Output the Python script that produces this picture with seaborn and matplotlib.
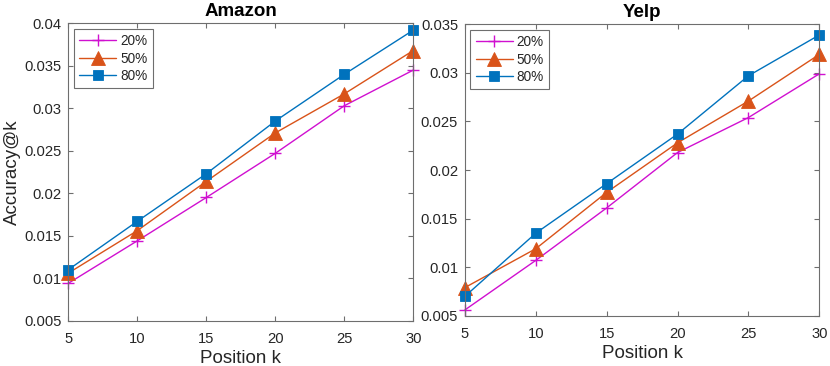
import numpy as np
import pandas as pd
import matplotlib
matplotlib.use("Agg")
import matplotlib.pyplot as plt
import seaborn as sns

k = [5, 10, 15, 20, 25, 30]
series = ["20%", "50%", "80%"]
amazon_20 = [0.0094, 0.0144, 0.0195, 0.0247, 0.0303, 0.0345]
amazon_50 = [0.0106, 0.0156, 0.0214, 0.0271, 0.0317, 0.0368]
amazon_80 = [0.0110, 0.0167, 0.0223, 0.0285, 0.0340, 0.0392]
yelp_20 = [0.0056, 0.0107, 0.0161, 0.0218, 0.0254, 0.0299]
yelp_50 = [0.0079, 0.0119, 0.0177, 0.0228, 0.0271, 0.0319]
yelp_80 = [0.0070, 0.0135, 0.0186, 0.0237, 0.0297, 0.0339]
amazon_yticks = [0.005, 0.01, 0.015, 0.02, 0.025, 0.03, 0.035, 0.04]
amazon_ylabels = ["0.005", "0.01", "0.015", "0.02", "0.025", "0.03", "0.035", "0.04"]
yelp_yticks = [0.005, 0.01, 0.015, 0.02, 0.025, 0.03, 0.035]
yelp_ylabels = ["0.005", "0.01", "0.015", "0.02", "0.025", "0.03", "0.035"]

sns.set_style("ticks")
plt.rcParams["font.family"] = ["Liberation Sans", "DejaVu Sans"]

colors = {"20%": "#D010D0", "50%": "#D95319", "80%": "#0072BD"}
markers = {"20%": "+", "50%": "^", "80%": "s"}
msizes = {"20%": 9, "50%": 10, "80%": 7.5}
txt = "#262626"
edge = "#6e6e6e"

fig = plt.figure(figsize=(8.3, 3.66), dpi=100)
ax1 = fig.add_axes([0.0823, 0.1238, 0.4157, 0.8125])
ax2 = fig.add_axes([0.5602, 0.1374, 0.4269, 0.7962])

panels = [
    (ax1, "Amazon", [amazon_20, amazon_50, amazon_80], (0.005, 0.04), amazon_yticks, amazon_ylabels),
    (ax2, "Yelp", [yelp_20, yelp_50, yelp_80], (0.005, 0.035), yelp_yticks, yelp_ylabels),
]

for ax, title, vals, ylim, yt, yl in panels:
    df = pd.DataFrame({
        "k": k * 3,
        "acc": vals[0] + vals[1] + vals[2],
        "s": sum([[s] * len(k) for s in series], []),
    })
    for s in series:
        sub = df[df["s"] == s]
        sns.lineplot(data=sub, x="k", y="acc", ax=ax, color=colors[s], marker=markers[s],
                     markersize=msizes[s], markeredgewidth=1.0 if s == "20%" else 0.6,
                     markeredgecolor=colors[s], linewidth=1.0, label=s, clip_on=False)
    ax.set_xlim(5, 30)
    ax.set_ylim(*ylim)
    ax.set_xticks(k)
    ax.set_xticklabels([str(v) for v in k])
    ax.set_yticks(yt)
    ax.set_yticklabels(yl)
    ax.tick_params(direction="in", length=3.5, width=0.8, top=True, right=True,
                   labelsize=10.6, colors=edge, labelcolor=txt)
    ax.tick_params(axis="x", pad=8)
    ax.tick_params(axis="y", pad=5)
    for sp in ax.spines.values():
        sp.set_visible(True)
        sp.set_color(edge)
        sp.set_linewidth(0.8)
    ax.set_title(title, fontsize=13.5, fontweight="bold", color="black", pad=5)
    ax.set_xlabel("Position k", fontsize=13.5, color=txt, labelpad=3)
    ax.set_ylabel("")
    leg = ax.legend(loc="upper left", fontsize=9.8, frameon=True, fancybox=False,
                    framealpha=1, edgecolor=edge, handlelength=2.7, borderpad=0.4,
                    labelspacing=0.25, handletextpad=0.3, borderaxespad=0.4)
    leg.get_frame().set_linewidth(0.8)

ax1.set_ylabel("Accuracy@k", fontsize=13.5, color=txt, labelpad=2)

fig.savefig("out.png", dpi=100)
